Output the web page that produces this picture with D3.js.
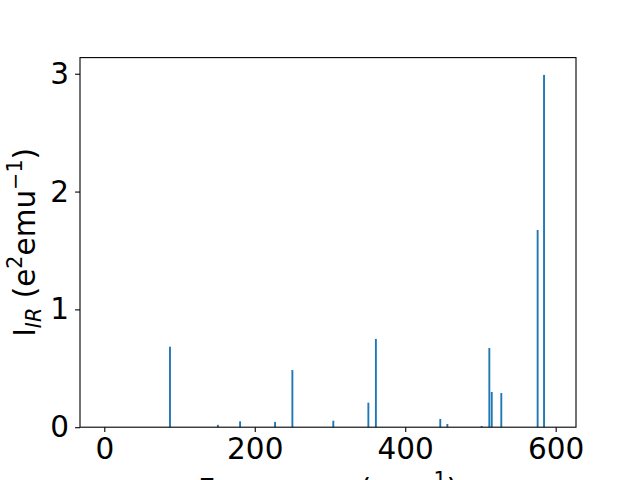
<!DOCTYPE html>
<html>
<head>
<meta charset="utf-8">
<script src="https://cdn.jsdelivr.net/npm/d3@7"></script>
<style>
  html, body { margin: 0; padding: 0; background: #fff; }
  svg { display: block; }
  text { font-family: "DejaVu Sans", sans-serif; fill: #000; }
</style>
</head>
<body>
<svg id="chart" width="640" height="480"></svg>
<script>
const frequencies = [87.3, 151, 180.5, 227, 250, 304.4, 351, 361, 446.6, 456, 501.6, 511.8, 515, 527.7, 576, 584.5];
const intensities = [0.683, 0.02, 0.05, 0.045, 0.485, 0.055, 0.208, 0.749, 0.07, 0.027, 0.01, 0.672, 0.299, 0.29, 1.674, 2.99];
const xTicks = [0, 200, 400, 600];
const yTicks = [0, 1, 2, 3];
const barWidth = 2.5;

(function () {
const mLeft = 80, mRight = 576, mTop = 57.6, mBottom = 427.2;
const svg = d3.select("#chart");

const x = d3.scaleLinear().domain([-32.3, 627]).range([mLeft, mRight]);
const y = d3.scaleLinear().domain([0, 3.137]).range([mBottom, mTop]);

const data = frequencies.map((f, i) => ({ f, v: intensities[i] }));

svg.append("g")
  .selectAll("rect")
  .data(data)
  .join("rect")
  .attr("x", d => x(d.f - barWidth / 2))
  .attr("width", d => x(d.f + barWidth / 2) - x(d.f - barWidth / 2))
  .attr("y", d => y(d.v))
  .attr("height", d => y(0) - y(d.v))
  .attr("fill", "#1f77b4");

const fs = 29.5;

const xAxis = d3.axisBottom(x).tickValues(xTicks).tickSize(4.9).tickPadding(6).tickFormat(d3.format("d"));
const gx = svg.append("g").attr("transform", `translate(0,${mBottom})`).call(xAxis);
gx.select(".domain").remove();
gx.selectAll("line").attr("stroke", "#000").attr("stroke-width", 1.1);
gx.selectAll("text").attr("font-size", fs).attr("font-family", "DejaVu Sans").attr("fill", "#000");

const yAxis = d3.axisLeft(y).tickValues(yTicks).tickSize(4.9).tickPadding(6).tickFormat(d3.format("d"));
const gy = svg.append("g").attr("transform", `translate(${mLeft},0)`).call(yAxis);
gy.select(".domain").remove();
gy.selectAll("line").attr("stroke", "#000").attr("stroke-width", 1.1);
gy.selectAll("text").attr("font-size", fs).attr("font-family", "DejaVu Sans").attr("fill", "#000");

svg.append("rect")
  .attr("x", mLeft).attr("y", mTop)
  .attr("width", mRight - mLeft).attr("height", mBottom - mTop)
  .attr("fill", "none").attr("stroke", "#000").attr("stroke-width", 1.1);

const xl = svg.append("text")
  .attr("x", (mLeft + mRight) / 2).attr("y", 500)
  .attr("text-anchor", "middle").attr("font-size", fs);
xl.append("tspan").text("Frequency (cm");
xl.append("tspan").attr("font-size", fs * 0.7).attr("dy", -fs * 0.45).text("\u22121");
xl.append("tspan").attr("dy", fs * 0.45).text(")");

const yl = svg.append("text")
  .attr("transform", `translate(35,${(mTop + mBottom) / 2}) rotate(-90)`)
  .attr("text-anchor", "middle").attr("font-size", fs);
yl.append("tspan").text("I");
yl.append("tspan").attr("font-size", fs * 0.7).attr("font-style", "italic").attr("dy", fs * 0.2).text("IR");
yl.append("tspan").attr("dy", -fs * 0.2).text(" (e");
yl.append("tspan").attr("font-size", fs * 0.7).attr("dy", -fs * 0.45).text("2");
yl.append("tspan").attr("dy", fs * 0.45).text("emu");
yl.append("tspan").attr("font-size", fs * 0.7).attr("dy", -fs * 0.45).text("\u22121");
yl.append("tspan").attr("dy", fs * 0.45).text(")");
})();
</script>
</body>
</html>
